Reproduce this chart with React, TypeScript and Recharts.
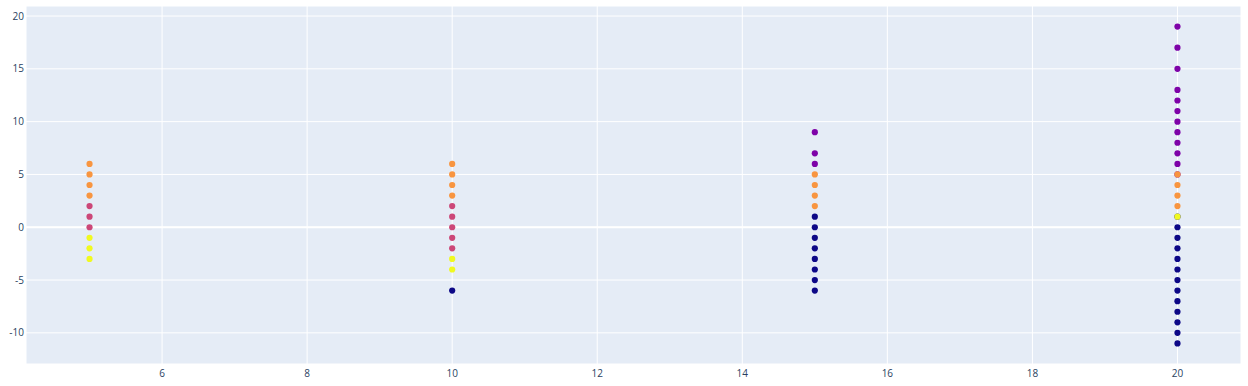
import React from "react";
import { ScatterChart, Scatter, XAxis, YAxis, CartesianGrid, ReferenceLine } from "recharts";

const xTicks = [6, 8, 10, 12, 14, 16, 18, 20];
const yTicks = [-10, -5, 0, 5, 10, 15, 20];

// [x, y] pairs per colour group
const navyPoints: number[][] = [
  [10, -6],
  [15, 1], [15, 0], [15, -1], [15, -2], [15, -3], [15, -4], [15, -5], [15, -6],
  [20, 1], [20, 0], [20, -1], [20, -2], [20, -3], [20, -4], [20, -5], [20, -6], [20, -7], [20, -8], [20, -9], [20, -10], [20, -11],
];
const purplePoints: number[][] = [
  [15, 9], [15, 7], [15, 6],
  [20, 19], [20, 17], [20, 15], [20, 13], [20, 12], [20, 11], [20, 10], [20, 9], [20, 8], [20, 7], [20, 6], [20, 5],
];
const pinkPoints: number[][] = [
  [5, 2], [5, 1], [5, 0],
  [10, 2], [10, 1], [10, 0], [10, -1], [10, -2],
];
const orangePoints: number[][] = [
  [5, 6], [5, 5], [5, 4], [5, 3],
  [10, 6], [10, 5], [10, 4], [10, 3],
  [15, 5], [15, 4], [15, 3], [15, 2],
  [20, 5], [20, 4], [20, 3], [20, 2],
];
const yellowPoints: number[][] = [
  [5, -1], [5, -2], [5, -3],
  [10, -3], [10, -4],
  [20, 1],
];

const series = [
  { name: "navy", color: "#0d0887", points: navyPoints },
  { name: "purple", color: "#7e03a8", points: purplePoints },
  { name: "pink", color: "#cc4778", points: pinkPoints },
  { name: "orange", color: "#f89540", points: orangePoints },
  { name: "yellow", color: "#f0f921", points: yellowPoints },
];

const toData = (pts: number[][]) => pts.map(([x, y]) => ({ x, y }));

const Dot = (props: any) => {
  const { cx, cy, fill } = props;
  if (cx == null || cy == null) return null;
  return <circle cx={cx} cy={cy} r={3.1} fill={fill} />;
};

const tickStyle = { fontFamily: "'Open Sans', sans-serif", fontSize: 10, fill: "#2a3f5f" };

export default function App() {
  return (
    <div style={{ position: "absolute", left: 0, top: 0, background: "#fff" }}>
      <ScatterChart width={1248} height={386} margin={{ top: 6, right: 7, bottom: 0, left: 0 }}>
        <CartesianGrid fill="#E5ECF6" stroke="#ffffff" strokeWidth={1} />
        <XAxis
          type="number"
          dataKey="x"
          domain={[4.124, 20.876]}
          allowDataOverflow
          ticks={xTicks}
          tickLine={false}
          axisLine={false}
          tickSize={0}
          tickMargin={6}
          height={22}
          tick={tickStyle}
          interval={0}
        />
        <YAxis
          type="number"
          dataKey="y"
          domain={[-12.95, 20.95]}
          allowDataOverflow
          ticks={yTicks}
          tickLine={false}
          axisLine={false}
          tickSize={0}
          tickMargin={2}
          width={26}
          tick={tickStyle}
          interval={0}
        />
        <ReferenceLine y={0} stroke="#ffffff" strokeWidth={2} />
        {series.map((s) => (
          <Scatter
            key={s.name}
            name={s.name}
            data={toData(s.points)}
            fill={s.color}
            shape={<Dot />}
            isAnimationActive={false}
          />
        ))}
      </ScatterChart>
    </div>
  );
}
